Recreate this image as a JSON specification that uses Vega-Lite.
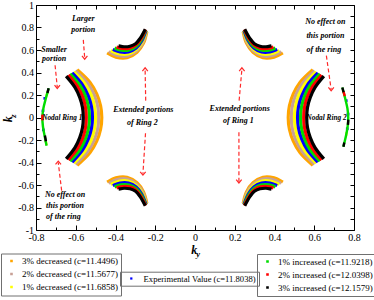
{
"$schema":"https://vega.github.io/schema/vega-lite/v6.json",
"width":318,"height":225,"autosize":"none",
"padding":{"left":36,"top":5,"right":20,"bottom":70},
"background":"white",
"config":{"view":{"stroke":"black","strokeWidth":1},"axis":{"grid":false,"domain":false,"tickColor":"black"}},
"datasets":{
"dec":[
{"c":"d3","g":"L","y":-0.587,"z":0.416},{"c":"d3","g":"L","y":-0.528,"z":0.312},{"c":"d3","g":"L","y":-0.494,"z":0.208},{"c":"d3","g":"L","y":-0.475,"z":0.104},{"c":"d3","g":"L","y":-0.469,"z":0},{"c":"d3","g":"L","y":-0.475,"z":-0.104},{"c":"d3","g":"L","y":-0.494,"z":-0.208},{"c":"d3","g":"L","y":-0.528,"z":-0.312},{"c":"d3","g":"L","y":-0.587,"z":-0.416},
{"c":"d3","g":"R","y":0.587,"z":0.416},{"c":"d3","g":"R","y":0.528,"z":0.312},{"c":"d3","g":"R","y":0.494,"z":0.208},{"c":"d3","g":"R","y":0.475,"z":0.104},{"c":"d3","g":"R","y":0.469,"z":0},{"c":"d3","g":"R","y":0.475,"z":-0.104},{"c":"d3","g":"R","y":0.494,"z":-0.208},{"c":"d3","g":"R","y":0.528,"z":-0.312},{"c":"d3","g":"R","y":0.587,"z":-0.416},
{"c":"d3","g":"UL","y":-0.435,"z":0.567},{"c":"d3","g":"UL","y":-0.398,"z":0.536},{"c":"d3","g":"UL","y":-0.342,"z":0.531},{"c":"d3","g":"UL","y":-0.292,"z":0.58},{"c":"d3","g":"UL","y":-0.259,"z":0.661},{"c":"d3","g":"UL","y":-0.244,"z":0.75},
{"c":"d3","g":"LL","y":-0.435,"z":-0.567},{"c":"d3","g":"LL","y":-0.398,"z":-0.536},{"c":"d3","g":"LL","y":-0.342,"z":-0.531},{"c":"d3","g":"LL","y":-0.292,"z":-0.58},{"c":"d3","g":"LL","y":-0.259,"z":-0.661},{"c":"d3","g":"LL","y":-0.244,"z":-0.75},
{"c":"d3","g":"UR","y":0.435,"z":0.567},{"c":"d3","g":"UR","y":0.398,"z":0.536},{"c":"d3","g":"UR","y":0.342,"z":0.531},{"c":"d3","g":"UR","y":0.292,"z":0.58},{"c":"d3","g":"UR","y":0.259,"z":0.661},{"c":"d3","g":"UR","y":0.244,"z":0.75},
{"c":"d3","g":"LR","y":0.435,"z":-0.567},{"c":"d3","g":"LR","y":0.398,"z":-0.536},{"c":"d3","g":"LR","y":0.342,"z":-0.531},{"c":"d3","g":"LR","y":0.292,"z":-0.58},{"c":"d3","g":"LR","y":0.259,"z":-0.661},{"c":"d3","g":"LR","y":0.244,"z":-0.75},
{"c":"d2","g":"L","y":-0.596,"z":0.406},{"c":"d2","g":"L","y":-0.541,"z":0.305},{"c":"d2","g":"L","y":-0.508,"z":0.203},{"c":"d2","g":"L","y":-0.49,"z":0.102},{"c":"d2","g":"L","y":-0.485,"z":0},{"c":"d2","g":"L","y":-0.49,"z":-0.102},{"c":"d2","g":"L","y":-0.508,"z":-0.203},{"c":"d2","g":"L","y":-0.541,"z":-0.305},{"c":"d2","g":"L","y":-0.596,"z":-0.406},
{"c":"d2","g":"R","y":0.596,"z":0.406},{"c":"d2","g":"R","y":0.541,"z":0.305},{"c":"d2","g":"R","y":0.508,"z":0.203},{"c":"d2","g":"R","y":0.49,"z":0.102},{"c":"d2","g":"R","y":0.485,"z":0},{"c":"d2","g":"R","y":0.49,"z":-0.102},{"c":"d2","g":"R","y":0.508,"z":-0.203},{"c":"d2","g":"R","y":0.541,"z":-0.305},{"c":"d2","g":"R","y":0.596,"z":-0.406},
{"c":"d2","g":"UL","y":-0.426,"z":0.578},{"c":"d2","g":"UL","y":-0.391,"z":0.551},{"c":"d2","g":"UL","y":-0.34,"z":0.548},{"c":"d2","g":"UL","y":-0.293,"z":0.593},{"c":"d2","g":"UL","y":-0.262,"z":0.667},{"c":"d2","g":"UL","y":-0.246,"z":0.754},
{"c":"d2","g":"LL","y":-0.426,"z":-0.578},{"c":"d2","g":"LL","y":-0.391,"z":-0.551},{"c":"d2","g":"LL","y":-0.34,"z":-0.548},{"c":"d2","g":"LL","y":-0.293,"z":-0.593},{"c":"d2","g":"LL","y":-0.262,"z":-0.667},{"c":"d2","g":"LL","y":-0.246,"z":-0.754},
{"c":"d2","g":"UR","y":0.426,"z":0.578},{"c":"d2","g":"UR","y":0.391,"z":0.551},{"c":"d2","g":"UR","y":0.34,"z":0.548},{"c":"d2","g":"UR","y":0.293,"z":0.593},{"c":"d2","g":"UR","y":0.262,"z":0.667},{"c":"d2","g":"UR","y":0.246,"z":0.754},
{"c":"d2","g":"LR","y":0.426,"z":-0.578},{"c":"d2","g":"LR","y":0.391,"z":-0.551},{"c":"d2","g":"LR","y":0.34,"z":-0.548},{"c":"d2","g":"LR","y":0.293,"z":-0.593},{"c":"d2","g":"LR","y":0.262,"z":-0.667},{"c":"d2","g":"LR","y":0.246,"z":-0.754},
{"c":"d1","g":"L","y":-0.604,"z":0.396},{"c":"d1","g":"L","y":-0.553,"z":0.297},{"c":"d1","g":"L","y":-0.522,"z":0.198},{"c":"d1","g":"L","y":-0.506,"z":0.099},{"c":"d1","g":"L","y":-0.5,"z":0},{"c":"d1","g":"L","y":-0.506,"z":-0.099},{"c":"d1","g":"L","y":-0.522,"z":-0.198},{"c":"d1","g":"L","y":-0.553,"z":-0.297},{"c":"d1","g":"L","y":-0.604,"z":-0.396},
{"c":"d1","g":"R","y":0.604,"z":0.396},{"c":"d1","g":"R","y":0.553,"z":0.297},{"c":"d1","g":"R","y":0.522,"z":0.198},{"c":"d1","g":"R","y":0.506,"z":0.099},{"c":"d1","g":"R","y":0.5,"z":0},{"c":"d1","g":"R","y":0.506,"z":-0.099},{"c":"d1","g":"R","y":0.522,"z":-0.198},{"c":"d1","g":"R","y":0.553,"z":-0.297},{"c":"d1","g":"R","y":0.604,"z":-0.396},
{"c":"d1","g":"UL","y":-0.416,"z":0.589},{"c":"d1","g":"UL","y":-0.384,"z":0.567},{"c":"d1","g":"UL","y":-0.337,"z":0.565},{"c":"d1","g":"UL","y":-0.294,"z":0.606},{"c":"d1","g":"UL","y":-0.265,"z":0.674},{"c":"d1","g":"UL","y":-0.247,"z":0.757},
{"c":"d1","g":"LL","y":-0.416,"z":-0.589},{"c":"d1","g":"LL","y":-0.384,"z":-0.567},{"c":"d1","g":"LL","y":-0.337,"z":-0.565},{"c":"d1","g":"LL","y":-0.294,"z":-0.606},{"c":"d1","g":"LL","y":-0.265,"z":-0.674},{"c":"d1","g":"LL","y":-0.247,"z":-0.757},
{"c":"d1","g":"UR","y":0.416,"z":0.589},{"c":"d1","g":"UR","y":0.384,"z":0.567},{"c":"d1","g":"UR","y":0.337,"z":0.565},{"c":"d1","g":"UR","y":0.294,"z":0.606},{"c":"d1","g":"UR","y":0.265,"z":0.674},{"c":"d1","g":"UR","y":0.247,"z":0.757},
{"c":"d1","g":"LR","y":0.416,"z":-0.589},{"c":"d1","g":"LR","y":0.384,"z":-0.567},{"c":"d1","g":"LR","y":0.337,"z":-0.565},{"c":"d1","g":"LR","y":0.294,"z":-0.606},{"c":"d1","g":"LR","y":0.265,"z":-0.674},{"c":"d1","g":"LR","y":0.247,"z":-0.757},
{"c":"d1","g":"TLa","y":-0.743,"z":0.22},{"c":"d1","g":"TLa","y":-0.746,"z":0.2},
{"c":"d1","g":"TLb","y":-0.75,"z":-0.215},{"c":"d1","g":"TLb","y":-0.748,"z":-0.235},
{"c":"d1","g":"TRa","y":0.762,"z":-0.14},{"c":"d1","g":"TRa","y":0.761,"z":-0.155}
],
"exp":[
{"g":"L","y":-0.613,"z":0.387},{"g":"L","y":-0.566,"z":0.29},{"g":"L","y":-0.537,"z":0.193},{"g":"L","y":-0.521,"z":0.097},{"g":"L","y":-0.516,"z":0},{"g":"L","y":-0.521,"z":-0.097},{"g":"L","y":-0.537,"z":-0.193},{"g":"L","y":-0.566,"z":-0.29},{"g":"L","y":-0.613,"z":-0.387},
{"g":"R","y":0.613,"z":0.387},{"g":"R","y":0.566,"z":0.29},{"g":"R","y":0.537,"z":0.193},{"g":"R","y":0.521,"z":0.097},{"g":"R","y":0.516,"z":0},{"g":"R","y":0.521,"z":-0.097},{"g":"R","y":0.537,"z":-0.193},{"g":"R","y":0.566,"z":-0.29},{"g":"R","y":0.613,"z":-0.387},
{"g":"UL","y":-0.406,"z":0.6},{"g":"UL","y":-0.377,"z":0.583},{"g":"UL","y":-0.335,"z":0.583},{"g":"UL","y":-0.296,"z":0.618},{"g":"UL","y":-0.268,"z":0.681},{"g":"UL","y":-0.249,"z":0.761},
{"g":"LL","y":-0.406,"z":-0.6},{"g":"LL","y":-0.377,"z":-0.583},{"g":"LL","y":-0.335,"z":-0.583},{"g":"LL","y":-0.296,"z":-0.618},{"g":"LL","y":-0.268,"z":-0.681},{"g":"LL","y":-0.249,"z":-0.761},
{"g":"UR","y":0.406,"z":0.6},{"g":"UR","y":0.377,"z":0.583},{"g":"UR","y":0.335,"z":0.583},{"g":"UR","y":0.296,"z":0.618},{"g":"UR","y":0.268,"z":0.681},{"g":"UR","y":0.249,"z":0.761},
{"g":"LR","y":0.406,"z":-0.6},{"g":"LR","y":0.377,"z":-0.583},{"g":"LR","y":0.335,"z":-0.583},{"g":"LR","y":0.296,"z":-0.618},{"g":"LR","y":0.268,"z":-0.681},{"g":"LR","y":0.249,"z":-0.761}
],
"dots":[
{"c":"Experimental Value (c=11.8038)","y":-0.765,"z":0.06},{"c":"Experimental Value (c=11.8038)","y":-0.763,"z":-0.11},{"c":"Experimental Value (c=11.8038)","y":-0.756,"z":0.17},
{"c":"Experimental Value (c=11.8038)","y":0.77,"z":0.03},{"c":"Experimental Value (c=11.8038)","y":0.766,"z":-0.1},{"c":"Experimental Value (c=11.8038)","y":0.761,"z":0.15}
],
"inc":[
{"c":"i1","g":"L","y":-0.623,"z":0.377},{"c":"i1","g":"L","y":-0.578,"z":0.283},{"c":"i1","g":"L","y":-0.551,"z":0.188},{"c":"i1","g":"L","y":-0.536,"z":0.094},{"c":"i1","g":"L","y":-0.531,"z":0},{"c":"i1","g":"L","y":-0.536,"z":-0.094},{"c":"i1","g":"L","y":-0.551,"z":-0.188},{"c":"i1","g":"L","y":-0.578,"z":-0.283},{"c":"i1","g":"L","y":-0.623,"z":-0.377},
{"c":"i1","g":"R","y":0.623,"z":0.377},{"c":"i1","g":"R","y":0.578,"z":0.283},{"c":"i1","g":"R","y":0.551,"z":0.188},{"c":"i1","g":"R","y":0.536,"z":0.094},{"c":"i1","g":"R","y":0.531,"z":0},{"c":"i1","g":"R","y":0.536,"z":-0.094},{"c":"i1","g":"R","y":0.551,"z":-0.188},{"c":"i1","g":"R","y":0.578,"z":-0.283},{"c":"i1","g":"R","y":0.623,"z":-0.377},
{"c":"i1","g":"UL","y":-0.397,"z":0.612},{"c":"i1","g":"UL","y":-0.371,"z":0.598},{"c":"i1","g":"UL","y":-0.332,"z":0.6},{"c":"i1","g":"UL","y":-0.297,"z":0.631},{"c":"i1","g":"UL","y":-0.271,"z":0.688},{"c":"i1","g":"UL","y":-0.251,"z":0.765},
{"c":"i1","g":"LL","y":-0.397,"z":-0.612},{"c":"i1","g":"LL","y":-0.371,"z":-0.598},{"c":"i1","g":"LL","y":-0.332,"z":-0.6},{"c":"i1","g":"LL","y":-0.297,"z":-0.631},{"c":"i1","g":"LL","y":-0.271,"z":-0.688},{"c":"i1","g":"LL","y":-0.251,"z":-0.765},
{"c":"i1","g":"UR","y":0.397,"z":0.612},{"c":"i1","g":"UR","y":0.371,"z":0.598},{"c":"i1","g":"UR","y":0.332,"z":0.6},{"c":"i1","g":"UR","y":0.297,"z":0.631},{"c":"i1","g":"UR","y":0.271,"z":0.688},{"c":"i1","g":"UR","y":0.251,"z":0.765},
{"c":"i1","g":"LR","y":0.397,"z":-0.612},{"c":"i1","g":"LR","y":0.371,"z":-0.598},{"c":"i1","g":"LR","y":0.332,"z":-0.6},{"c":"i1","g":"LR","y":0.297,"z":-0.631},{"c":"i1","g":"LR","y":0.271,"z":-0.688},{"c":"i1","g":"LR","y":0.251,"z":-0.765},
{"c":"i1","g":"TL","y":-0.738,"z":0.25},{"c":"i1","g":"TL","y":-0.752,"z":0.16},{"c":"i1","g":"TL","y":-0.763,"z":0.08},{"c":"i1","g":"TL","y":-0.768,"z":0},{"c":"i1","g":"TL","y":-0.765,"z":-0.08},{"c":"i1","g":"TL","y":-0.757,"z":-0.16},{"c":"i1","g":"TL","y":-0.748,"z":-0.24},
{"c":"i1","g":"TR","y":0.743,"z":0.256},{"c":"i1","g":"TR","y":0.757,"z":0.16},{"c":"i1","g":"TR","y":0.767,"z":0.08},{"c":"i1","g":"TR","y":0.771,"z":0},{"c":"i1","g":"TR","y":0.768,"z":-0.08},{"c":"i1","g":"TR","y":0.76,"z":-0.16},{"c":"i1","g":"TR","y":0.748,"z":-0.25},
{"c":"i2","g":"L","y":-0.632,"z":0.367},{"c":"i2","g":"L","y":-0.591,"z":0.275},{"c":"i2","g":"L","y":-0.565,"z":0.183},{"c":"i2","g":"L","y":-0.551,"z":0.092},{"c":"i2","g":"L","y":-0.547,"z":0},{"c":"i2","g":"L","y":-0.551,"z":-0.092},{"c":"i2","g":"L","y":-0.565,"z":-0.183},{"c":"i2","g":"L","y":-0.591,"z":-0.275},{"c":"i2","g":"L","y":-0.632,"z":-0.367},
{"c":"i2","g":"R","y":0.632,"z":0.367},{"c":"i2","g":"R","y":0.591,"z":0.275},{"c":"i2","g":"R","y":0.565,"z":0.183},{"c":"i2","g":"R","y":0.551,"z":0.092},{"c":"i2","g":"R","y":0.547,"z":0},{"c":"i2","g":"R","y":0.551,"z":-0.092},{"c":"i2","g":"R","y":0.565,"z":-0.183},{"c":"i2","g":"R","y":0.591,"z":-0.275},{"c":"i2","g":"R","y":0.632,"z":-0.367},
{"c":"i2","g":"UL","y":-0.387,"z":0.623},{"c":"i2","g":"UL","y":-0.364,"z":0.614},{"c":"i2","g":"UL","y":-0.33,"z":0.617},{"c":"i2","g":"UL","y":-0.298,"z":0.644},{"c":"i2","g":"UL","y":-0.274,"z":0.694},{"c":"i2","g":"UL","y":-0.252,"z":0.769},
{"c":"i2","g":"LL","y":-0.387,"z":-0.623},{"c":"i2","g":"LL","y":-0.364,"z":-0.614},{"c":"i2","g":"LL","y":-0.33,"z":-0.617},{"c":"i2","g":"LL","y":-0.298,"z":-0.644},{"c":"i2","g":"LL","y":-0.274,"z":-0.694},{"c":"i2","g":"LL","y":-0.252,"z":-0.769},
{"c":"i2","g":"UR","y":0.387,"z":0.623},{"c":"i2","g":"UR","y":0.364,"z":0.614},{"c":"i2","g":"UR","y":0.33,"z":0.617},{"c":"i2","g":"UR","y":0.298,"z":0.644},{"c":"i2","g":"UR","y":0.274,"z":0.694},{"c":"i2","g":"UR","y":0.252,"z":0.769},
{"c":"i2","g":"LR","y":0.387,"z":-0.623},{"c":"i2","g":"LR","y":0.364,"z":-0.614},{"c":"i2","g":"LR","y":0.33,"z":-0.617},{"c":"i2","g":"LR","y":0.298,"z":-0.644},{"c":"i2","g":"LR","y":0.274,"z":-0.694},{"c":"i2","g":"LR","y":0.252,"z":-0.769},
{"c":"i2","g":"TLr","y":-0.768,"z":0.015},{"c":"i2","g":"TLr","y":-0.768,"z":-0.015},
{"c":"i2","g":"TRr","y":0.749,"z":0.22},{"c":"i2","g":"TRr","y":0.752,"z":0.2},
{"c":"i3","g":"L","y":-0.643,"z":0.357},{"c":"i3","g":"L","y":-0.604,"z":0.268},{"c":"i3","g":"L","y":-0.58,"z":0.179},{"c":"i3","g":"L","y":-0.566,"z":0.089},{"c":"i3","g":"L","y":-0.562,"z":0},{"c":"i3","g":"L","y":-0.566,"z":-0.089},{"c":"i3","g":"L","y":-0.58,"z":-0.179},{"c":"i3","g":"L","y":-0.604,"z":-0.268},{"c":"i3","g":"L","y":-0.643,"z":-0.357},
{"c":"i3","g":"R","y":0.643,"z":0.357},{"c":"i3","g":"R","y":0.604,"z":0.268},{"c":"i3","g":"R","y":0.58,"z":0.179},{"c":"i3","g":"R","y":0.566,"z":0.089},{"c":"i3","g":"R","y":0.562,"z":0},{"c":"i3","g":"R","y":0.566,"z":-0.089},{"c":"i3","g":"R","y":0.58,"z":-0.179},{"c":"i3","g":"R","y":0.604,"z":-0.268},{"c":"i3","g":"R","y":0.643,"z":-0.357},
{"c":"i3","g":"UL","y":-0.377,"z":0.634},{"c":"i3","g":"UL","y":-0.357,"z":0.629},{"c":"i3","g":"UL","y":-0.327,"z":0.634},{"c":"i3","g":"UL","y":-0.299,"z":0.656},{"c":"i3","g":"UL","y":-0.277,"z":0.701},{"c":"i3","g":"UL","y":-0.254,"z":0.772},
{"c":"i3","g":"LL","y":-0.377,"z":-0.634},{"c":"i3","g":"LL","y":-0.357,"z":-0.629},{"c":"i3","g":"LL","y":-0.327,"z":-0.634},{"c":"i3","g":"LL","y":-0.299,"z":-0.656},{"c":"i3","g":"LL","y":-0.277,"z":-0.701},{"c":"i3","g":"LL","y":-0.254,"z":-0.772},
{"c":"i3","g":"UR","y":0.377,"z":0.634},{"c":"i3","g":"UR","y":0.357,"z":0.629},{"c":"i3","g":"UR","y":0.327,"z":0.634},{"c":"i3","g":"UR","y":0.299,"z":0.656},{"c":"i3","g":"UR","y":0.277,"z":0.701},{"c":"i3","g":"UR","y":0.254,"z":0.772},
{"c":"i3","g":"LR","y":0.377,"z":-0.634},{"c":"i3","g":"LR","y":0.357,"z":-0.629},{"c":"i3","g":"LR","y":0.327,"z":-0.634},{"c":"i3","g":"LR","y":0.299,"z":-0.656},{"c":"i3","g":"LR","y":0.277,"z":-0.701},{"c":"i3","g":"LR","y":0.254,"z":-0.772},
{"c":"i3","g":"TLa","y":-0.738,"z":0.25},{"c":"i3","g":"TLa","y":-0.741,"z":0.228},
{"c":"i3","g":"TLb","y":-0.754,"z":-0.17},{"c":"i3","g":"TLb","y":-0.751,"z":-0.2},
{"c":"i3","g":"TRa","y":0.743,"z":0.256},{"c":"i3","g":"TRa","y":0.746,"z":0.235},
{"c":"i3","g":"TRb","y":0.771,"z":-0.03},{"c":"i3","g":"TRb","y":0.77,"z":-0.055},
{"c":"i3","g":"TRc","y":0.75,"z":-0.232},{"c":"i3","g":"TRc","y":0.748,"z":-0.25}
],
"arr":[
{"y":-0.704,"z":0.464,"y2":-0.693,"z2":0.27,"d":"down"},
{"y":-0.562,"z":0.69,"y2":-0.555,"z2":0.53,"d":"down"},
{"y":-0.248,"z":0.15,"y2":-0.251,"z2":0.43,"d":"up"},
{"y":-0.249,"z":-0.14,"y2":-0.262,"z2":-0.5,"d":"down"},
{"y":0.222,"z":0.15,"y2":0.236,"z2":0.43,"d":"up"},
{"y":0.221,"z":-0.13,"y2":0.221,"z2":-0.57,"d":"down"},
{"y":0.661,"z":0.55,"y2":0.685,"z2":0.25,"d":"down"},
{"y":-0.671,"z":-0.65,"y2":-0.688,"z2":-0.4,"d":"up"}
],
"txt":[
{"t":"Smaller","y":-0.709,"z":0.604},{"t":"portion","y":-0.709,"z":0.518},
{"t":"Larger","y":-0.562,"z":0.875},{"t":"portion","y":-0.562,"z":0.777},
{"t":"Extended portions","y":-0.26,"z":0.0625},{"t":"of Ring 2","y":-0.265,"z":-0.047},
{"t":"Extended portions","y":0.225,"z":0.078},{"t":"of Ring 1","y":0.218,"z":-0.027},
{"t":"No effect on","y":0.656,"z":0.851},{"t":"this portion","y":0.656,"z":0.726},{"t":"of the ring","y":0.648,"z":0.604},
{"t":"No effect on","y":-0.654,"z":-0.6875},{"t":"this portion","y":-0.654,"z":-0.786},{"t":"of the ring","y":-0.662,"z":-0.884},
{"t":"Nodal Ring 1","y":-0.668,"z":0.0},{"t":"Nodal Ring 2","y":0.662,"z":0.0}
]
},
"resolve":{"axis":{"x":"independent","y":"independent"}},
"layer":[
{"data":{"name":"dec"},
 "mark":{"type":"line","interpolate":"catmull-rom","strokeCap":"square"},
 "encoding":{
  "x":{"field":"y","type":"quantitative","scale":{"domain":[-0.8,0.8],"nice":false,"zero":false},
   "axis":{"orient":"bottom","values":[-0.8,-0.6,-0.4,-0.2,0,0.2,0.4,0.6,0.8],"format":"~g","tickSize":-5,"labelPadding":7.5,"labelFont":"Liberation Serif","labelFontSize":10,"labelColor":"black","labelExpr":"replace(datum.label,'−','-')","labelFlush":false,"labelOverlap":false,
   "title":"k","titleFont":"Liberation Serif","titleFontSize":12,"titleFontStyle":"italic","titleFontWeight":"bold","titleColor":"black","titleX":157.8,"titleY":23.5,"titleBaseline":"alphabetic","titleAlign":"center"}},
  "y":{"field":"z","type":"quantitative","scale":{"domain":[-1,1],"nice":false,"zero":false},
   "axis":{"orient":"left","values":[-1,-0.8,-0.6,-0.4,-0.2,0,0.2,0.4,0.6,0.8,1],"format":"~g","tickSize":-5,"labelPadding":7.5,"labelFont":"Liberation Serif","labelFontSize":10,"labelColor":"black","labelExpr":"replace(datum.label,'−','-')","labelFlush":false,"labelOverlap":false,
   "title":"k","titleFont":"Liberation Serif","titleFontSize":12,"titleFontStyle":"italic","titleFontWeight":"bold","titleColor":"black","titleX":-24.3,"titleY":113.7,"titleAngle":270,"titleBaseline":"alphabetic","titleAlign":"center"}},
  "stroke":{"field":"c","type":"nominal","scale":{"domain":["d3","d2","d1"],"range":["#ffa500","#c8a096","#ffff00"]},
   "legend":{"orient":"none","legendX":-35,"legendY":248.5,"title":null,"strokeColor":"#707070","padding":3,"symbolType":"square","symbolSize":2,"symbolStrokeWidth":1.2,"symbolOffset":3,"labelOffset":6,"rowPadding":3,"labelFont":"Liberation Serif","labelFontSize":9,"labelColor":"black",
   "labelExpr":"datum.label=='d3' ? '3% decreased (c=11.4496)' : datum.label=='d2' ? '2% decreased (c=11.5677)' : '1% decreased (c=11.6858)'"}},
  "strokeWidth":{"condition":{"test":"indexof(datum.g,'T')==0","value":2.4},"value":3.2},
  "detail":{"field":"g"},
  "order":{"value":null}
 }},
{"data":{"name":"exp"},
 "mark":{"type":"line","interpolate":"catmull-rom","strokeWidth":3.2,"strokeCap":"square","stroke":"#0000ff"},
 "encoding":{
  "x":{"field":"y","type":"quantitative","axis":{"orient":"top","values":[-0.8,-0.7,-0.6,-0.5,-0.4,-0.3,-0.2,-0.1,0,0.1,0.2,0.3,0.4,0.5,0.6,0.7,0.8],"tickSize":-4,"labels":false,"title":null}},
  "y":{"field":"z","type":"quantitative","axis":{"orient":"right","values":[-1,-0.9,-0.8,-0.7,-0.6,-0.5,-0.4,-0.3,-0.2,-0.1,0,0.1,0.2,0.3,0.4,0.5,0.6,0.7,0.8,0.9,1],"tickSize":-4,"labels":false,"title":null}},
  "detail":{"field":"g"},
  "order":{"value":null}
 }},
{"data":{"name":"dots"},
 "mark":{"type":"point","shape":"square","filled":true,"size":7,"opacity":1},
 "encoding":{
  "x":{"field":"y","type":"quantitative","axis":{"orient":"bottom","values":[-0.7,-0.5,-0.3,-0.1,0.1,0.3,0.5,0.7],"tickSize":-3,"labels":false,
   "title":"y","titleFont":"Liberation Serif","titleFontSize":8.5,"titleFontStyle":"italic","titleFontWeight":"bold","titleColor":"black","titleX":161.7,"titleY":26.5,"titleBaseline":"alphabetic","titleAlign":"center"}},
  "y":{"field":"z","type":"quantitative","axis":{"orient":"left","values":[-0.9,-0.7,-0.5,-0.3,-0.1,0.1,0.3,0.5,0.7,0.9],"tickSize":-3,"labels":false,
   "title":"z","titleFont":"Liberation Serif","titleFontSize":8.5,"titleFontStyle":"italic","titleFontWeight":"bold","titleColor":"black","titleX":-21,"titleY":110.5,"titleAngle":270,"titleBaseline":"alphabetic","titleAlign":"center"}},
  "fill":{"field":"c","type":"nominal","scale":{"range":["#0000ff"]},
   "legend":{"orient":"none","legendX":84,"legendY":266.7,"title":null,"strokeColor":"#707070","padding":2.5,"symbolType":"square","symbolSize":5,"symbolOffset":4.5,"labelOffset":8,"labelFont":"Liberation Serif","labelFontSize":8.6,"labelColor":"black","labelLimit":300}}
 }},
{"data":{"name":"inc"},
 "mark":{"type":"line","interpolate":"catmull-rom","strokeCap":"square"},
 "encoding":{
  "x":{"field":"y","type":"quantitative","axis":null},
  "y":{"field":"z","type":"quantitative","axis":null},
  "color":{"field":"c","type":"nominal","scale":{"domain":["i1","i2","i3"],"range":["#00dd00","#ff0000","#000000"]},
   "legend":{"orient":"none","legendX":221,"legendY":249,"title":null,"strokeColor":"#707070","padding":3,"symbolType":"square","symbolSize":2,"symbolStrokeWidth":1.2,"symbolOffset":3,"labelOffset":6,"rowPadding":3,"labelFont":"Liberation Serif","labelFontSize":9,"labelColor":"black",
   "labelExpr":"datum.label=='i1' ? '1% increased (c=11.9218)' : datum.label=='i2' ? '2% increased (c=12.0398)' : '3% increased (c=12.1579)'"}},
  "strokeWidth":{"condition":{"test":"indexof(datum.g,'T')==0","value":2.4},"value":3.2},
  "detail":{"field":"g"},
  "order":{"value":null}
 }},
{"data":{"name":"arr"},
 "mark":{"type":"rule","stroke":"#ff2a2a","strokeWidth":1.2,"strokeDash":[4,2.5]},
 "encoding":{
  "x":{"field":"y","type":"quantitative","axis":null},
  "y":{"field":"z","type":"quantitative","axis":null},
  "x2":{"field":"y2"},"y2":{"field":"z2"}
 }},
{"data":{"name":"arr"},
 "mark":{"type":"point","filled":false,"stroke":"#ff2a2a","strokeWidth":1.2,"size":30,"opacity":1},
 "encoding":{
  "x":{"field":"y2","type":"quantitative","axis":null},
  "y":{"field":"z2","type":"quantitative","axis":null},
  "shape":{"condition":{"test":"datum.d=='up'","value":"M-1,0.7L0,-0.5L1,0.7"},"value":"M-1,-0.7L0,0.5L1,-0.7"}
 }},
{"data":{"name":"txt"},
 "mark":{"type":"text","font":"Liberation Serif","fontStyle":"italic","fontWeight":"bold","color":"black","align":"center","baseline":"middle"},
 "encoding":{
  "x":{"field":"y","type":"quantitative","axis":null},
  "y":{"field":"z","type":"quantitative","axis":null},
  "text":{"field":"t"},
  "size":{"condition":{"test":"indexof(datum.t,'Nodal')==0","value":7.3},"value":8}
 }}
]
}
